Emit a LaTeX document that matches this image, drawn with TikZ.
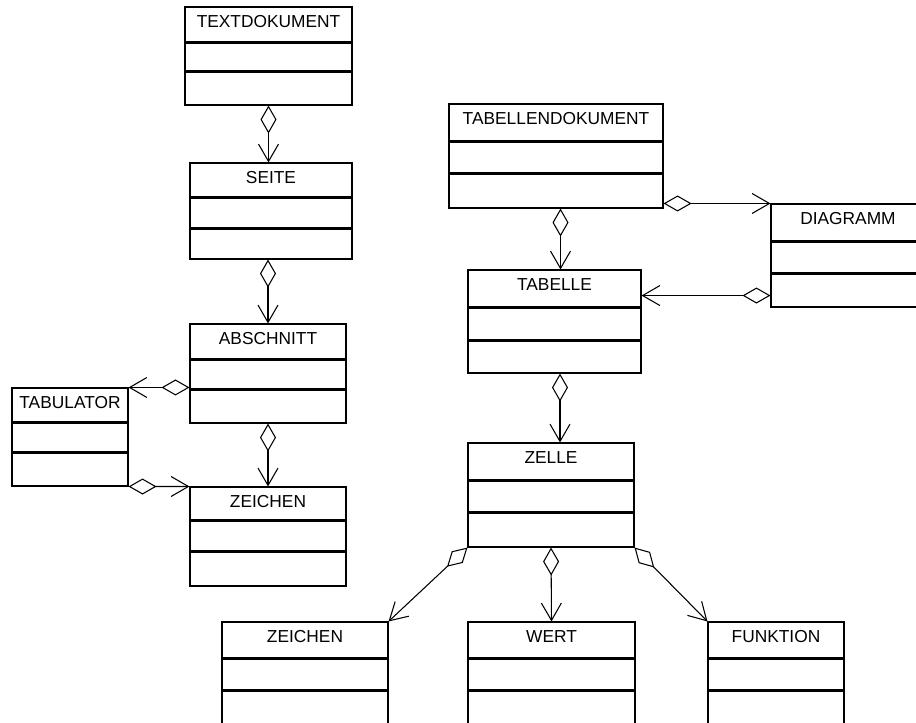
\documentclass[tikz,border=0pt]{standalone}
\usepackage{fontspec}
\setmainfont{Liberation Sans}
\usetikzlibrary{arrows.meta,calc,fit}

% class box: name, corner, corner, first divider, second divider, title
\newcommand{\umlclass}[6]{%
  \node[classbox,fit={#2 #3}] (#1) {};
  \draw[divider] ($(#1.north west)+(0,#4)$) -- ($(#1.north east)+(0,#4)$);
  \draw[divider] ($(#1.north west)+(0,#5)$) -- ($(#1.north east)+(0,#5)$);
  \node[classname] (#1-name) at ($(#1.north)+(0,21)$) {#6};
}

\begin{document}
\begin{tikzpicture}[x=0.75pt,y=-0.75pt,line width=0.8pt,
    classbox/.style={draw,inner sep=0pt,line width=0.8pt},
    divider/.style={line width=1.6pt},
    classname/.style={anchor=base,inner sep=0pt,font=\fontsize{13}{15}\selectfont},
    aggr/.style={{Diamond[open,length=21pt,width=12pt]}-{Straight Barb[length=13pt,width=15pt]}}]
    \useasboundingbox (0,0) rectangle (916,722);
    \clip (0,0) rectangle (916,722);

    % Text document side
    \umlclass{textdok}{(185,7)}{(352,105)}{36}{65}{TEXTDOKUMENT}
    \umlclass{seite}{(190,163)}{(352,259)}{35}{66}{SEITE}
    \umlclass{abschnitt}{(190,324)}{(346,423)}{36}{66}{ABSCHNITT}
    \umlclass{tabulator}{(12,388)}{(128,486)}{35}{65}{TABULATOR}
    \umlclass{zeichen}{(190,487)}{(346,586)}{34}{65}{ZEICHEN}

    % Spreadsheet side
    \umlclass{tabdok}{(449,104)}{(663,208)}{38}{70}{TABELLENDOKUMENT}
    \umlclass{diagramm}{(771,204)}{(925,307)}{38}{70}{DIAGRAMM}
    \umlclass{tabelle}{(468,270)}{(641,373)}{38}{71}{TABELLE}
    \umlclass{zelle}{(468,443)}{(634,547)}{38}{70}{ZELLE}
    \umlclass{zeichenb}{(222,622)}{(388,724)}{37}{69}{ZEICHEN}
    \umlclass{wert}{(468,622)}{(635,724)}{37}{69}{WERT}
    \umlclass{funktion}{(708,622)}{(844,724)}{37}{69}{FUNKTION}

    % Aggregations, text document
    \draw[aggr] (textdok.south) -- (textdok.south |- seite.north);
    \draw[aggr] (seite.south -| abschnitt.north) -- (abschnitt.north);
    \draw[aggr] (abschnitt.south) -- (zeichen.north);
    \draw[aggr] (tabulator.north east -| abschnitt.west) -- (tabulator.north east);
    \draw[aggr] (tabulator.south east) -- (zeichen.north west);

    % Aggregations, spreadsheet
    \draw[aggr] (diagramm.north west -| tabdok.east) -- (diagramm.north west);
    \coordinate (tabin) at ($(tabelle.north)+(6,0)$);
    \draw[aggr] (tabin |- tabdok.south) -- (tabin);
    \coordinate (diagout) at ($(diagramm.south west)+(0,-12)$);
    \draw[aggr] (diagout) -- (diagout -| tabelle.east);
    \coordinate (zellein) at ($(zelle.north)+(9,0)$);
    \draw[aggr] (zellein |- tabelle.south) -- (zellein);
    \draw[aggr] (zelle.south west) -- (zeichenb.north east);
    \draw[aggr] (zelle.south) -- (wert.north);
    \draw[aggr] (zelle.south east) -- (funktion.north west);
\end{tikzpicture}
\end{document}
